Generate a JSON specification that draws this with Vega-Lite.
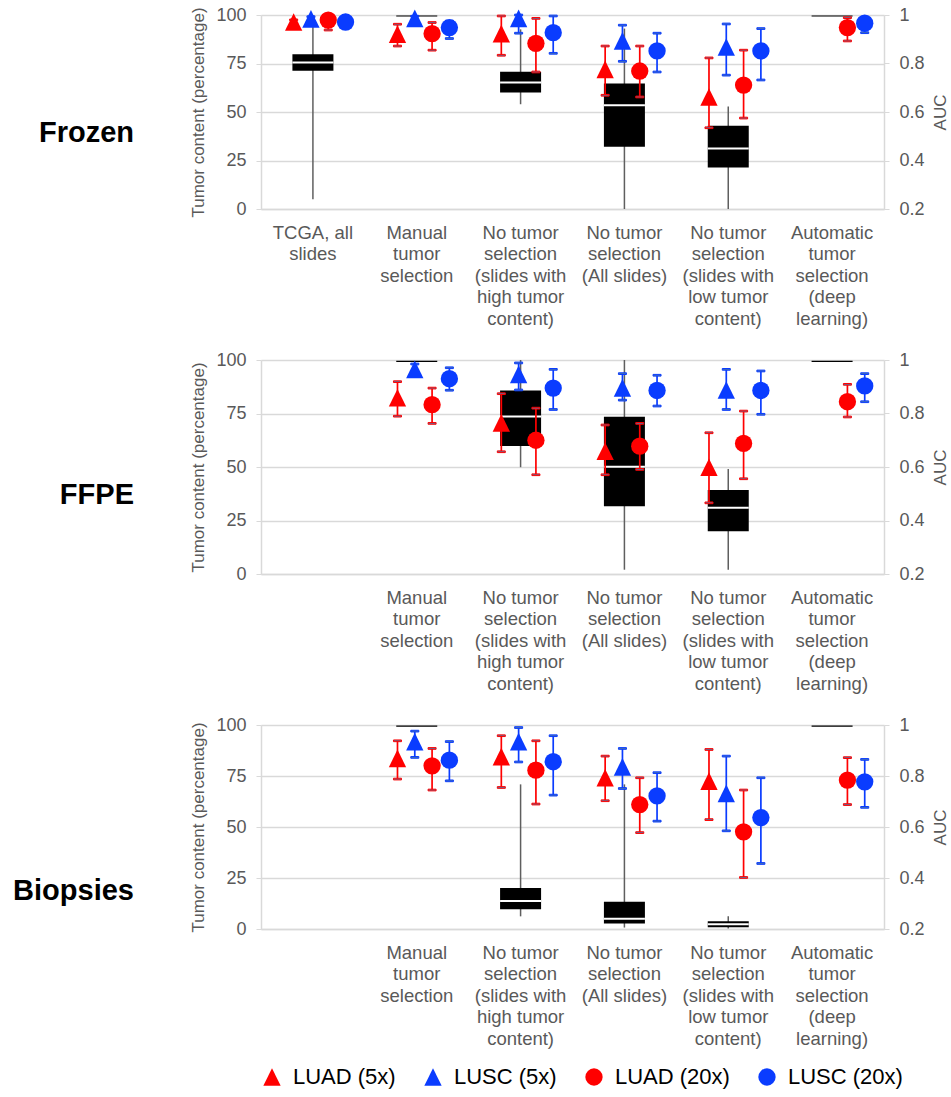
{
  "$schema": "https://vega.github.io/schema/vega-lite/v6.json",
  "padding": {"top": 6, "left": 13, "right": 2, "bottom": 5},
  "config": {
    "font": "Liberation Sans",
    "view": {"stroke": null},
    "axis": {"labelFont": "Liberation Sans", "titleFont": "Liberation Sans"},
    "legend": {"labelFont": "Liberation Sans", "orient": "bottom", "direction": "horizontal", "labelFontSize": 22, "labelColor": "black", "symbolSize": 300, "symbolStrokeWidth": 0, "columnPadding": 26, "labelOffset": 10, "offset": 18}
  },
  "datasets": {
    "box": [
      {"panel": "Frozen", "cat": "TCGA, all|slides", "lower": 5, "q1": 71.2, "median": 75.5, "q3": 79.8, "upper": 100},
      {"panel": "Frozen", "cat": "Manual|tumor|selection", "lower": null, "q1": 99.2, "median": null, "q3": 99.8, "upper": null},
      {"panel": "Frozen", "cat": "No tumor|selection|(slides with|high tumor|content)", "lower": 54, "q1": 60, "median": 65.2, "q3": 70.7, "upper": 92.6},
      {"panel": "Frozen", "cat": "No tumor|selection|(All slides)", "lower": 0, "q1": 32.1, "median": 53.5, "q3": 64.7, "upper": 93},
      {"panel": "Frozen", "cat": "No tumor|selection|(slides with|low tumor|content)", "lower": 0, "q1": 21.4, "median": 31.2, "q3": 42.9, "upper": 52.8},
      {"panel": "Frozen", "cat": "Automatic|tumor|selection|(deep|learning)", "lower": null, "q1": 99.2, "median": null, "q3": 99.8, "upper": null},
      {"panel": "FFPE", "cat": "Manual|tumor|selection", "lower": null, "q1": 99.1, "median": null, "q3": 99.7, "upper": null},
      {"panel": "FFPE", "cat": "No tumor|selection|(slides with|high tumor|content)", "lower": 49.9, "q1": 59.8, "median": 73.6, "q3": 85.8, "upper": 100},
      {"panel": "FFPE", "cat": "No tumor|selection|(All slides)", "lower": 2, "q1": 31.7, "median": 50.1, "q3": 73.5, "upper": 100},
      {"panel": "FFPE", "cat": "No tumor|selection|(slides with|low tumor|content)", "lower": 2, "q1": 20, "median": 30.9, "q3": 39.2, "upper": 49.1},
      {"panel": "FFPE", "cat": "Automatic|tumor|selection|(deep|learning)", "lower": null, "q1": 99.1, "median": null, "q3": 99.7, "upper": null},
      {"panel": "Biopsies", "cat": "Manual|tumor|selection", "lower": null, "q1": 99.2, "median": null, "q3": 99.8, "upper": null},
      {"panel": "Biopsies", "cat": "No tumor|selection|(slides with|high tumor|content)", "lower": 6.2, "q1": 9.7, "median": 13.7, "q3": 20.1, "upper": 70.9},
      {"panel": "Biopsies", "cat": "No tumor|selection|(All slides)", "lower": 0.7, "q1": 2.7, "median": 5, "q3": 13.3, "upper": 70.9},
      {"panel": "Biopsies", "cat": "No tumor|selection|(slides with|low tumor|content)", "lower": 0.2, "q1": 0.8, "median": 2.3, "q3": 3.8, "upper": 6.2},
      {"panel": "Biopsies", "cat": "Automatic|tumor|selection|(deep|learning)", "lower": null, "q1": 99.2, "median": null, "q3": 99.8, "upper": null}
    ],
    "auc": [
      {"panel": "Frozen", "cat": "TCGA, all|slides", "series": "LUAD (5x)", "auc": 0.971, "lo": 0.962, "hi": 0.98},
      {"panel": "Frozen", "cat": "TCGA, all|slides", "series": "LUSC (5x)", "auc": 0.984, "lo": 0.975, "hi": 0.993},
      {"panel": "Frozen", "cat": "TCGA, all|slides", "series": "LUAD (20x)", "auc": 0.979, "lo": 0.938, "hi": 0.995},
      {"panel": "Frozen", "cat": "TCGA, all|slides", "series": "LUSC (20x)", "auc": 0.971, "lo": 0.962, "hi": 0.98},
      {"panel": "Frozen", "cat": "Manual|tumor|selection", "series": "LUAD (5x)", "auc": 0.921, "lo": 0.872, "hi": 0.962},
      {"panel": "Frozen", "cat": "Manual|tumor|selection", "series": "LUSC (5x)", "auc": 0.986, "lo": 0.975, "hi": 0.995},
      {"panel": "Frozen", "cat": "Manual|tumor|selection", "series": "LUAD (20x)", "auc": 0.923, "lo": 0.855, "hi": 0.969},
      {"panel": "Frozen", "cat": "Manual|tumor|selection", "series": "LUSC (20x)", "auc": 0.948, "lo": 0.903, "hi": 0.975},
      {"panel": "Frozen", "cat": "No tumor|selection|(slides with|high tumor|content)", "series": "LUAD (5x)", "auc": 0.923, "lo": 0.834, "hi": 0.996},
      {"panel": "Frozen", "cat": "No tumor|selection|(slides with|high tumor|content)", "series": "LUSC (5x)", "auc": 0.986, "lo": 0.925, "hi": 1.0},
      {"panel": "Frozen", "cat": "No tumor|selection|(slides with|high tumor|content)", "series": "LUAD (20x)", "auc": 0.883, "lo": 0.765, "hi": 0.986},
      {"panel": "Frozen", "cat": "No tumor|selection|(slides with|high tumor|content)", "series": "LUSC (20x)", "auc": 0.927, "lo": 0.842, "hi": 0.996},
      {"panel": "Frozen", "cat": "No tumor|selection|(All slides)", "series": "LUAD (5x)", "auc": 0.776, "lo": 0.669, "hi": 0.872},
      {"panel": "Frozen", "cat": "No tumor|selection|(All slides)", "series": "LUSC (5x)", "auc": 0.893, "lo": 0.809, "hi": 0.958},
      {"panel": "Frozen", "cat": "No tumor|selection|(All slides)", "series": "LUAD (20x)", "auc": 0.769, "lo": 0.662, "hi": 0.872},
      {"panel": "Frozen", "cat": "No tumor|selection|(All slides)", "series": "LUSC (20x)", "auc": 0.852, "lo": 0.765, "hi": 0.925},
      {"panel": "Frozen", "cat": "No tumor|selection|(slides with|low tumor|content)", "series": "LUAD (5x)", "auc": 0.662, "lo": 0.535, "hi": 0.823},
      {"panel": "Frozen", "cat": "No tumor|selection|(slides with|low tumor|content)", "series": "LUSC (5x)", "auc": 0.868, "lo": 0.752, "hi": 0.963},
      {"panel": "Frozen", "cat": "No tumor|selection|(slides with|low tumor|content)", "series": "LUAD (20x)", "auc": 0.711, "lo": 0.575, "hi": 0.855},
      {"panel": "Frozen", "cat": "No tumor|selection|(slides with|low tumor|content)", "series": "LUSC (20x)", "auc": 0.852, "lo": 0.732, "hi": 0.944},
      {"panel": "Frozen", "cat": "Automatic|tumor|selection|(deep|learning)", "series": "LUAD (20x)", "auc": 0.948, "lo": 0.893, "hi": 0.989},
      {"panel": "Frozen", "cat": "Automatic|tumor|selection|(deep|learning)", "series": "LUSC (20x)", "auc": 0.966, "lo": 0.927, "hi": 0.99},
      {"panel": "FFPE", "cat": "Manual|tumor|selection", "series": "LUAD (5x)", "auc": 0.859, "lo": 0.79, "hi": 0.919},
      {"panel": "FFPE", "cat": "Manual|tumor|selection", "series": "LUSC (5x)", "auc": 0.965, "lo": 0.955, "hi": 0.985},
      {"panel": "FFPE", "cat": "Manual|tumor|selection", "series": "LUAD (20x)", "auc": 0.833, "lo": 0.763, "hi": 0.895},
      {"panel": "FFPE", "cat": "Manual|tumor|selection", "series": "LUSC (20x)", "auc": 0.93, "lo": 0.887, "hi": 0.971},
      {"panel": "FFPE", "cat": "No tumor|selection|(slides with|high tumor|content)", "series": "LUAD (5x)", "auc": 0.765, "lo": 0.657, "hi": 0.874},
      {"panel": "FFPE", "cat": "No tumor|selection|(slides with|high tumor|content)", "series": "LUSC (5x)", "auc": 0.946, "lo": 0.888, "hi": 0.989},
      {"panel": "FFPE", "cat": "No tumor|selection|(slides with|high tumor|content)", "series": "LUAD (20x)", "auc": 0.7, "lo": 0.571, "hi": 0.82},
      {"panel": "FFPE", "cat": "No tumor|selection|(slides with|high tumor|content)", "series": "LUSC (20x)", "auc": 0.895, "lo": 0.815, "hi": 0.965},
      {"panel": "FFPE", "cat": "No tumor|selection|(All slides)", "series": "LUAD (5x)", "auc": 0.659, "lo": 0.571, "hi": 0.757},
      {"panel": "FFPE", "cat": "No tumor|selection|(All slides)", "series": "LUSC (5x)", "auc": 0.896, "lo": 0.85, "hi": 0.949},
      {"panel": "FFPE", "cat": "No tumor|selection|(All slides)", "series": "LUAD (20x)", "auc": 0.678, "lo": 0.591, "hi": 0.763},
      {"panel": "FFPE", "cat": "No tumor|selection|(All slides)", "series": "LUSC (20x)", "auc": 0.886, "lo": 0.828, "hi": 0.943},
      {"panel": "FFPE", "cat": "No tumor|selection|(slides with|low tumor|content)", "series": "LUAD (5x)", "auc": 0.599, "lo": 0.466, "hi": 0.728},
      {"panel": "FFPE", "cat": "No tumor|selection|(slides with|low tumor|content)", "series": "LUSC (5x)", "auc": 0.888, "lo": 0.815, "hi": 0.965},
      {"panel": "FFPE", "cat": "No tumor|selection|(slides with|low tumor|content)", "series": "LUAD (20x)", "auc": 0.688, "lo": 0.556, "hi": 0.809},
      {"panel": "FFPE", "cat": "No tumor|selection|(slides with|low tumor|content)", "series": "LUSC (20x)", "auc": 0.886, "lo": 0.797, "hi": 0.959},
      {"panel": "FFPE", "cat": "Automatic|tumor|selection|(deep|learning)", "series": "LUAD (20x)", "auc": 0.844, "lo": 0.787, "hi": 0.909},
      {"panel": "FFPE", "cat": "Automatic|tumor|selection|(deep|learning)", "series": "LUSC (20x)", "auc": 0.903, "lo": 0.844, "hi": 0.949},
      {"panel": "Biopsies", "cat": "Manual|tumor|selection", "series": "LUAD (5x)", "auc": 0.869, "lo": 0.788, "hi": 0.938},
      {"panel": "Biopsies", "cat": "Manual|tumor|selection", "series": "LUSC (5x)", "auc": 0.935, "lo": 0.873, "hi": 0.976},
      {"panel": "Biopsies", "cat": "Manual|tumor|selection", "series": "LUAD (20x)", "auc": 0.84, "lo": 0.745, "hi": 0.908},
      {"panel": "Biopsies", "cat": "Manual|tumor|selection", "series": "LUSC (20x)", "auc": 0.862, "lo": 0.781, "hi": 0.935},
      {"panel": "Biopsies", "cat": "No tumor|selection|(slides with|high tumor|content)", "series": "LUAD (5x)", "auc": 0.876, "lo": 0.755, "hi": 0.958},
      {"panel": "Biopsies", "cat": "No tumor|selection|(slides with|high tumor|content)", "series": "LUSC (5x)", "auc": 0.935, "lo": 0.855, "hi": 0.99},
      {"panel": "Biopsies", "cat": "No tumor|selection|(slides with|high tumor|content)", "series": "LUAD (20x)", "auc": 0.823, "lo": 0.69, "hi": 0.938},
      {"panel": "Biopsies", "cat": "No tumor|selection|(slides with|high tumor|content)", "series": "LUSC (20x)", "auc": 0.856, "lo": 0.725, "hi": 0.958},
      {"panel": "Biopsies", "cat": "No tumor|selection|(All slides)", "series": "LUAD (5x)", "auc": 0.793, "lo": 0.703, "hi": 0.878},
      {"panel": "Biopsies", "cat": "No tumor|selection|(All slides)", "series": "LUSC (5x)", "auc": 0.836, "lo": 0.751, "hi": 0.908},
      {"panel": "Biopsies", "cat": "No tumor|selection|(All slides)", "series": "LUAD (20x)", "auc": 0.688, "lo": 0.578, "hi": 0.793},
      {"panel": "Biopsies", "cat": "No tumor|selection|(All slides)", "series": "LUSC (20x)", "auc": 0.722, "lo": 0.623, "hi": 0.813},
      {"panel": "Biopsies", "cat": "No tumor|selection|(slides with|low tumor|content)", "series": "LUAD (5x)", "auc": 0.78, "lo": 0.629, "hi": 0.904},
      {"panel": "Biopsies", "cat": "No tumor|selection|(slides with|low tumor|content)", "series": "LUSC (5x)", "auc": 0.732, "lo": 0.585, "hi": 0.878},
      {"panel": "Biopsies", "cat": "No tumor|selection|(slides with|low tumor|content)", "series": "LUAD (20x)", "auc": 0.581, "lo": 0.402, "hi": 0.745},
      {"panel": "Biopsies", "cat": "No tumor|selection|(slides with|low tumor|content)", "series": "LUSC (20x)", "auc": 0.637, "lo": 0.457, "hi": 0.793},
      {"panel": "Biopsies", "cat": "Automatic|tumor|selection|(deep|learning)", "series": "LUAD (20x)", "auc": 0.784, "lo": 0.688, "hi": 0.872},
      {"panel": "Biopsies", "cat": "Automatic|tumor|selection|(deep|learning)", "series": "LUSC (20x)", "auc": 0.777, "lo": 0.677, "hi": 0.865}
    ]
  },
  "spacing": 23,
  "resolve": {"scale": {"color": "shared", "shape": "shared"}, "legend": {"color": "shared", "shape": "shared"}},
  "vconcat": [
    {
      "width": 623, "height": 194,
      "title": {"text": "Frozen", "orient": "left", "angle": 0, "align": "left", "baseline": "middle", "frame": "group", "fontSize": 29, "fontWeight": "bold", "color": "black", "offset": 56, "dy": 21},
      "layer": [
        {
          "data": {"name": "box"},
          "transform": [{"filter": "datum.panel === 'Frozen'"}],
          "encoding": {
            "x": {"field": "cat", "type": "nominal", "sort": null, "title": null,
              "scale": {"domain": ["TCGA, all|slides", "Manual|tumor|selection", "No tumor|selection|(slides with|high tumor|content)", "No tumor|selection|(All slides)", "No tumor|selection|(slides with|low tumor|content)", "Automatic|tumor|selection|(deep|learning)"], "paddingInner": 0, "paddingOuter": 0},
              "axis": {"labelExpr": "split(datum.label, '|')", "labelAngle": 0, "ticks": false, "domainColor": "#d9d9d9", "domainWidth": 1.5, "labelFontSize": 18.5, "labelColor": "#595959", "labelLineHeight": 21.5, "labelPadding": 14, "labelBaseline": "top", "labelLimit": 0, "grid": false}}
          },
          "layer": [
            {"mark": {"type": "rule", "color": "#5f5f5f", "strokeWidth": 1.5},
             "encoding": {"y": {"field": "lower", "type": "quantitative", "title": "Tumor content (percentage)", "scale": {"domain": [0, 100], "nice": false, "zero": false},
               "axis": {"orient": "left", "values": [0, 25, 50, 75, 100], "grid": true, "gridColor": "#d9d9d9", "gridWidth": 1.5, "domainColor": "#d9d9d9", "domainWidth": 1.5, "tickColor": "#d9d9d9", "tickSize": 5, "labelFontSize": 18, "labelColor": "#595959", "labelPadding": 10, "titleFontSize": 17, "titleFontWeight": "normal", "titleColor": "#595959", "titlePadding": 8}},
               "y2": {"field": "upper"}}},
            {"mark": {"type": "bar", "color": "black", "width": 41},
             "encoding": {"y": {"field": "q1", "type": "quantitative", "title": "Tumor content (percentage)"}, "y2": {"field": "q3"}}},
            {"mark": {"type": "tick", "color": "white", "thickness": 2, "size": 41, "opacity": 1},
             "encoding": {"y": {"field": "median", "type": "quantitative", "title": "Tumor content (percentage)"}}}
          ]
        },
        {
          "data": {"name": "auc"},
          "transform": [{"filter": "datum.panel === 'Frozen'"}],
          "encoding": {
            "x": {"field": "cat", "type": "nominal", "sort": null, "title": null,
              "scale": {"domain": ["TCGA, all|slides", "Manual|tumor|selection", "No tumor|selection|(slides with|high tumor|content)", "No tumor|selection|(All slides)", "No tumor|selection|(slides with|low tumor|content)", "Automatic|tumor|selection|(deep|learning)"], "paddingInner": 0, "paddingOuter": 0},
              "axis": {"labelExpr": "split(datum.label, '|')", "labelAngle": 0, "ticks": false, "domainColor": "#d9d9d9", "domainWidth": 1.5, "labelFontSize": 18.5, "labelColor": "#595959", "labelLineHeight": 21.5, "labelPadding": 14, "labelBaseline": "top", "labelLimit": 0, "grid": false}},
            "xOffset": {"field": "series", "type": "nominal", "scale": {"domain": ["LUAD (5x)", "LUSC (5x)", "LUAD (20x)", "LUSC (20x)"], "range": [24, 93.2], "paddingInner": 0, "paddingOuter": 0}},
            "stroke": {"field": "series", "type": "nominal", "legend": null, "scale": {"domain": ["LUAD (20x)", "LUAD (5x)", "LUSC (20x)", "LUSC (5x)"], "range": ["#ff0000", "#ff0000", "#0a3cff", "#0a3cff"]}}
          },
          "layer": [
            {"mark": {"type": "rule", "strokeWidth": 1.7},
             "encoding": {"y": {"field": "lo", "type": "quantitative", "title": "AUC", "scale": {"domain": [0.2, 1], "nice": false, "zero": false},
               "axis": {"orient": "right", "values": [0.2, 0.4, 0.6, 0.8, 1], "format": "~g", "grid": false, "domainColor": "#d9d9d9", "domainWidth": 1.5, "tickColor": "#d9d9d9", "tickSize": 5, "labelFontSize": 18, "labelColor": "#595959", "labelPadding": 10, "titleFontSize": 17, "titleFontWeight": "normal", "titleColor": "#595959", "titlePadding": 8, "titleAngle": 270, "titleBaseline": "top"}},
               "y2": {"field": "hi"}}},
            {"mark": {"type": "tick", "thickness": 1.7, "size": 8, "opacity": 1},
             "encoding": {"y": {"field": "lo", "type": "quantitative", "title": "AUC"}}},
            {"mark": {"type": "tick", "thickness": 1.7, "size": 8, "opacity": 1},
             "encoding": {"y": {"field": "hi", "type": "quantitative", "title": "AUC"}}},
            {"mark": {"type": "point", "filled": true, "opacity": 1, "size": 300, "strokeWidth": 0},
             "encoding": {"y": {"field": "auc", "type": "quantitative", "title": "AUC"},
               "color": {"field": "series", "type": "nominal", "title": null, "scale": {"domain": ["LUAD (5x)", "LUSC (5x)", "LUAD (20x)", "LUSC (20x)"], "range": ["#ff0000", "#0a3cff", "#ff0000", "#0a3cff"]}},
               "shape": {"field": "series", "type": "nominal", "title": null, "scale": {"domain": ["LUAD (5x)", "LUSC (5x)", "LUAD (20x)", "LUSC (20x)"], "range": ["M0,-1.02L1,1.02L-1,1.02Z", "M0,-1.02L1,1.02L-1,1.02Z", "circle", "circle"]}}}}
          ]
        }
      ],
      "resolve": {"scale": {"y": "independent"}}
    },
    {
      "width": 623, "height": 214,
      "title": {"text": "FFPE", "orient": "left", "angle": 0, "align": "left", "baseline": "middle", "frame": "group", "fontSize": 29, "fontWeight": "bold", "color": "black", "offset": 56, "dy": 28},
      "layer": [
        {
          "data": {"name": "box"},
          "transform": [{"filter": "datum.panel === 'FFPE'"}],
          "encoding": {
            "x": {"field": "cat", "type": "nominal", "sort": null, "title": null,
              "scale": {"domain": ["TCGA, all|slides", "Manual|tumor|selection", "No tumor|selection|(slides with|high tumor|content)", "No tumor|selection|(All slides)", "No tumor|selection|(slides with|low tumor|content)", "Automatic|tumor|selection|(deep|learning)"], "paddingInner": 0, "paddingOuter": 0},
              "axis": {"labelExpr": "datum.value === 'TCGA, all|slides' ? '' : split(datum.label, '|')", "labelAngle": 0, "ticks": false, "domainColor": "#d9d9d9", "domainWidth": 1.5, "labelFontSize": 18.5, "labelColor": "#595959", "labelLineHeight": 21.5, "labelPadding": 14, "labelBaseline": "top", "labelLimit": 0, "grid": false}}
          },
          "layer": [
            {"mark": {"type": "rule", "color": "#5f5f5f", "strokeWidth": 1.5},
             "encoding": {"y": {"field": "lower", "type": "quantitative", "title": "Tumor content (percentage)", "scale": {"domain": [0, 100], "nice": false, "zero": false},
               "axis": {"orient": "left", "values": [0, 25, 50, 75, 100], "grid": true, "gridColor": "#d9d9d9", "gridWidth": 1.5, "domainColor": "#d9d9d9", "domainWidth": 1.5, "tickColor": "#d9d9d9", "tickSize": 5, "labelFontSize": 18, "labelColor": "#595959", "labelPadding": 10, "titleFontSize": 17, "titleFontWeight": "normal", "titleColor": "#595959", "titlePadding": 8}},
               "y2": {"field": "upper"}}},
            {"mark": {"type": "bar", "color": "black", "width": 41},
             "encoding": {"y": {"field": "q1", "type": "quantitative", "title": "Tumor content (percentage)"}, "y2": {"field": "q3"}}},
            {"mark": {"type": "tick", "color": "white", "thickness": 2, "size": 41, "opacity": 1},
             "encoding": {"y": {"field": "median", "type": "quantitative", "title": "Tumor content (percentage)"}}}
          ]
        },
        {
          "data": {"name": "auc"},
          "transform": [{"filter": "datum.panel === 'FFPE'"}],
          "encoding": {
            "x": {"field": "cat", "type": "nominal", "sort": null, "title": null,
              "scale": {"domain": ["TCGA, all|slides", "Manual|tumor|selection", "No tumor|selection|(slides with|high tumor|content)", "No tumor|selection|(All slides)", "No tumor|selection|(slides with|low tumor|content)", "Automatic|tumor|selection|(deep|learning)"], "paddingInner": 0, "paddingOuter": 0},
              "axis": {"labelExpr": "datum.value === 'TCGA, all|slides' ? '' : split(datum.label, '|')", "labelAngle": 0, "ticks": false, "domainColor": "#d9d9d9", "domainWidth": 1.5, "labelFontSize": 18.5, "labelColor": "#595959", "labelLineHeight": 21.5, "labelPadding": 14, "labelBaseline": "top", "labelLimit": 0, "grid": false}},
            "xOffset": {"field": "series", "type": "nominal", "scale": {"domain": ["LUAD (5x)", "LUSC (5x)", "LUAD (20x)", "LUSC (20x)"], "range": [24, 93.2], "paddingInner": 0, "paddingOuter": 0}},
            "stroke": {"field": "series", "type": "nominal", "legend": null, "scale": {"domain": ["LUAD (20x)", "LUAD (5x)", "LUSC (20x)", "LUSC (5x)"], "range": ["#ff0000", "#ff0000", "#0a3cff", "#0a3cff"]}}
          },
          "layer": [
            {"mark": {"type": "rule", "strokeWidth": 1.7},
             "encoding": {"y": {"field": "lo", "type": "quantitative", "title": "AUC", "scale": {"domain": [0.2, 1], "nice": false, "zero": false},
               "axis": {"orient": "right", "values": [0.2, 0.4, 0.6, 0.8, 1], "format": "~g", "grid": false, "domainColor": "#d9d9d9", "domainWidth": 1.5, "tickColor": "#d9d9d9", "tickSize": 5, "labelFontSize": 18, "labelColor": "#595959", "labelPadding": 10, "titleFontSize": 17, "titleFontWeight": "normal", "titleColor": "#595959", "titlePadding": 8, "titleAngle": 270, "titleBaseline": "top"}},
               "y2": {"field": "hi"}}},
            {"mark": {"type": "tick", "thickness": 1.7, "size": 8, "opacity": 1},
             "encoding": {"y": {"field": "lo", "type": "quantitative", "title": "AUC"}}},
            {"mark": {"type": "tick", "thickness": 1.7, "size": 8, "opacity": 1},
             "encoding": {"y": {"field": "hi", "type": "quantitative", "title": "AUC"}}},
            {"mark": {"type": "point", "filled": true, "opacity": 1, "size": 300, "strokeWidth": 0},
             "encoding": {"y": {"field": "auc", "type": "quantitative", "title": "AUC"},
               "color": {"field": "series", "type": "nominal", "title": null, "scale": {"domain": ["LUAD (5x)", "LUSC (5x)", "LUAD (20x)", "LUSC (20x)"], "range": ["#ff0000", "#0a3cff", "#ff0000", "#0a3cff"]}},
               "shape": {"field": "series", "type": "nominal", "title": null, "scale": {"domain": ["LUAD (5x)", "LUSC (5x)", "LUAD (20x)", "LUSC (20x)"], "range": ["M0,-1.02L1,1.02L-1,1.02Z", "M0,-1.02L1,1.02L-1,1.02Z", "circle", "circle"]}}}}
          ]
        }
      ],
      "resolve": {"scale": {"y": "independent"}}
    },
    {
      "width": 623, "height": 204,
      "title": {"text": "Biopsies", "orient": "left", "angle": 0, "align": "left", "baseline": "middle", "frame": "group", "fontSize": 29, "fontWeight": "bold", "color": "black", "offset": 56, "dy": 64},
      "layer": [
        {
          "data": {"name": "box"},
          "transform": [{"filter": "datum.panel === 'Biopsies'"}],
          "encoding": {
            "x": {"field": "cat", "type": "nominal", "sort": null, "title": null,
              "scale": {"domain": ["TCGA, all|slides", "Manual|tumor|selection", "No tumor|selection|(slides with|high tumor|content)", "No tumor|selection|(All slides)", "No tumor|selection|(slides with|low tumor|content)", "Automatic|tumor|selection|(deep|learning)"], "paddingInner": 0, "paddingOuter": 0},
              "axis": {"labelExpr": "datum.value === 'TCGA, all|slides' ? '' : split(datum.label, '|')", "labelAngle": 0, "ticks": false, "domainColor": "#d9d9d9", "domainWidth": 1.5, "labelFontSize": 18.5, "labelColor": "#595959", "labelLineHeight": 21.5, "labelPadding": 14, "labelBaseline": "top", "labelLimit": 0, "grid": false}}
          },
          "layer": [
            {"mark": {"type": "rule", "color": "#5f5f5f", "strokeWidth": 1.5},
             "encoding": {"y": {"field": "lower", "type": "quantitative", "title": "Tumor content (percentage)", "scale": {"domain": [0, 100], "nice": false, "zero": false},
               "axis": {"orient": "left", "values": [0, 25, 50, 75, 100], "grid": true, "gridColor": "#d9d9d9", "gridWidth": 1.5, "domainColor": "#d9d9d9", "domainWidth": 1.5, "tickColor": "#d9d9d9", "tickSize": 5, "labelFontSize": 18, "labelColor": "#595959", "labelPadding": 10, "titleFontSize": 17, "titleFontWeight": "normal", "titleColor": "#595959", "titlePadding": 8}},
               "y2": {"field": "upper"}}},
            {"mark": {"type": "bar", "color": "black", "width": 41},
             "encoding": {"y": {"field": "q1", "type": "quantitative", "title": "Tumor content (percentage)"}, "y2": {"field": "q3"}}},
            {"mark": {"type": "tick", "color": "white", "thickness": 2, "size": 41, "opacity": 1},
             "encoding": {"y": {"field": "median", "type": "quantitative", "title": "Tumor content (percentage)"}}}
          ]
        },
        {
          "data": {"name": "auc"},
          "transform": [{"filter": "datum.panel === 'Biopsies'"}],
          "encoding": {
            "x": {"field": "cat", "type": "nominal", "sort": null, "title": null,
              "scale": {"domain": ["TCGA, all|slides", "Manual|tumor|selection", "No tumor|selection|(slides with|high tumor|content)", "No tumor|selection|(All slides)", "No tumor|selection|(slides with|low tumor|content)", "Automatic|tumor|selection|(deep|learning)"], "paddingInner": 0, "paddingOuter": 0},
              "axis": {"labelExpr": "datum.value === 'TCGA, all|slides' ? '' : split(datum.label, '|')", "labelAngle": 0, "ticks": false, "domainColor": "#d9d9d9", "domainWidth": 1.5, "labelFontSize": 18.5, "labelColor": "#595959", "labelLineHeight": 21.5, "labelPadding": 14, "labelBaseline": "top", "labelLimit": 0, "grid": false}},
            "xOffset": {"field": "series", "type": "nominal", "scale": {"domain": ["LUAD (5x)", "LUSC (5x)", "LUAD (20x)", "LUSC (20x)"], "range": [24, 93.2], "paddingInner": 0, "paddingOuter": 0}},
            "stroke": {"field": "series", "type": "nominal", "legend": null, "scale": {"domain": ["LUAD (20x)", "LUAD (5x)", "LUSC (20x)", "LUSC (5x)"], "range": ["#ff0000", "#ff0000", "#0a3cff", "#0a3cff"]}}
          },
          "layer": [
            {"mark": {"type": "rule", "strokeWidth": 1.7},
             "encoding": {"y": {"field": "lo", "type": "quantitative", "title": "AUC", "scale": {"domain": [0.2, 1], "nice": false, "zero": false},
               "axis": {"orient": "right", "values": [0.2, 0.4, 0.6, 0.8, 1], "format": "~g", "grid": false, "domainColor": "#d9d9d9", "domainWidth": 1.5, "tickColor": "#d9d9d9", "tickSize": 5, "labelFontSize": 18, "labelColor": "#595959", "labelPadding": 10, "titleFontSize": 17, "titleFontWeight": "normal", "titleColor": "#595959", "titlePadding": 8, "titleAngle": 270, "titleBaseline": "top"}},
               "y2": {"field": "hi"}}},
            {"mark": {"type": "tick", "thickness": 1.7, "size": 8, "opacity": 1},
             "encoding": {"y": {"field": "lo", "type": "quantitative", "title": "AUC"}}},
            {"mark": {"type": "tick", "thickness": 1.7, "size": 8, "opacity": 1},
             "encoding": {"y": {"field": "hi", "type": "quantitative", "title": "AUC"}}},
            {"mark": {"type": "point", "filled": true, "opacity": 1, "size": 300, "strokeWidth": 0},
             "encoding": {"y": {"field": "auc", "type": "quantitative", "title": "AUC"},
               "color": {"field": "series", "type": "nominal", "title": null, "scale": {"domain": ["LUAD (5x)", "LUSC (5x)", "LUAD (20x)", "LUSC (20x)"], "range": ["#ff0000", "#0a3cff", "#ff0000", "#0a3cff"]}},
               "shape": {"field": "series", "type": "nominal", "title": null, "scale": {"domain": ["LUAD (5x)", "LUSC (5x)", "LUAD (20x)", "LUSC (20x)"], "range": ["M0,-1.02L1,1.02L-1,1.02Z", "M0,-1.02L1,1.02L-1,1.02Z", "circle", "circle"]}}}}
          ]
        }
      ],
      "resolve": {"scale": {"y": "independent"}}
    }
  ]
}
